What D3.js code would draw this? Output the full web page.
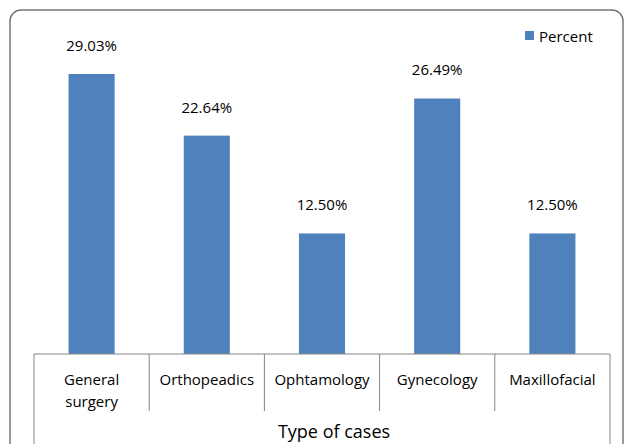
<!DOCTYPE html>
<html>
<head>
<meta charset="utf-8">
<script src="https://cdn.jsdelivr.net/npm/d3@7"></script>
<style>
  body { margin: 0; background: #fff; }
  svg text { font-family: "Open Sans", "Noto Sans", sans-serif; fill: #000; }
</style>
</head>
<body>
<div id="chart"></div>
<script>
const categories = [['General', 'surgery'], ['Orthopeadics'], ['Ophtamology'], ['Gynecology'], ['Maxillofacial']];
const percents = [29.03, 22.64, 12.5, 26.49, 12.5];
const seriesName = 'Percent';
const axisTitle = 'Type of cases';

const width = 630;
const height = 444;
const left = 34;
const right = 610;
const baseY = 354;

const svg = d3.select('#chart').append('svg')
  .attr('width', width)
  .attr('height', height);

// outer frame (rounded, runs off the bottom)
svg.append('rect')
  .attr('x', 10).attr('y', 10)
  .attr('width', 613).attr('height', 460)
  .attr('rx', 11)
  .attr('fill', 'none')
  .attr('stroke', '#777')
  .attr('stroke-width', 1.5);

const x = d3.scaleBand()
  .domain(d3.range(categories.length))
  .range([left, right])
  .paddingInner(0.6)
  .paddingOuter(0.3);

const xCat = d3.scaleBand()
  .domain(d3.range(categories.length))
  .range([left, right]);

const y = d3.scaleLinear()
  .domain([0, 29.03])
  .range([baseY, 74]);

// bars
svg.append('g').selectAll('rect')
  .data(percents)
  .join('rect')
  .attr('x', (d, i) => x(i))
  .attr('y', d => y(d))
  .attr('width', x.bandwidth())
  .attr('height', d => baseY - y(d))
  .attr('fill', '#4f81bd');

// value labels
svg.append('g').selectAll('text')
  .data(percents)
  .join('text')
  .attr('x', (d, i) => x(i) + x.bandwidth() / 2)
  .attr('y', d => y(d) - 23)
  .attr('text-anchor', 'middle')
  .style('font-size', '15px')
  .text(d => d3.format('.2f')(d) + '%');

// category axis
const axis = svg.append('g').attr('stroke', '#868686').attr('stroke-width', 1);
axis.append('line')
  .attr('x1', left).attr('x2', right)
  .attr('y1', baseY).attr('y2', baseY);

const edges = d3.range(categories.length + 1).map(i => i < categories.length ? xCat(i) : right);
axis.selectAll('line.tick')
  .data(edges)
  .join('line')
  .attr('class', 'tick')
  .attr('x1', d => d).attr('x2', d => d)
  .attr('y1', baseY)
  .attr('y2', (d, i) => (i === 0 || i === categories.length) ? height : 411);

const catText = svg.append('g').selectAll('text')
  .data(categories)
  .join('text')
  .attr('x', (d, i) => xCat(i) + xCat.bandwidth() / 2)
  .attr('y', 385)
  .attr('text-anchor', 'middle')
  .style('font-size', '15px');

catText.selectAll('tspan')
  .data(d => d)
  .join('tspan')
  .attr('x', function () { return d3.select(this.parentNode).attr('x'); })
  .attr('dy', (d, i) => i === 0 ? 0 : 22)
  .text(d => d);

svg.append('text')
  .attr('x', (left + right) / 2 + 12)
  .attr('y', 438)
  .attr('text-anchor', 'middle')
  .style('font-size', '18px')
  .text(axisTitle);

// legend
const legend = svg.append('g').attr('transform', 'translate(525,31)');
legend.append('rect')
  .attr('width', 9).attr('height', 9)
  .attr('fill', '#4f81bd');
legend.append('text')
  .attr('x', 14).attr('y', 11)
  .style('font-size', '15px')
  .text(seriesName);
</script>
</body>
</html>
